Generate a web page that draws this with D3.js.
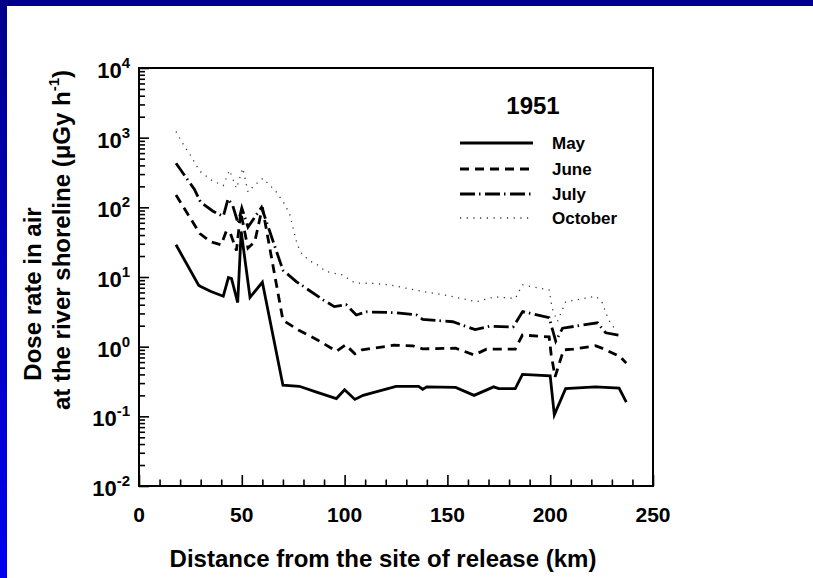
<!DOCTYPE html>
<html><head><meta charset="utf-8">
<script src="https://cdn.jsdelivr.net/npm/d3@7"></script>
<style>
html,body{margin:0;padding:0;background:#fff;}
svg{display:block;font-family:"Liberation Sans",Arial,sans-serif;font-weight:bold;}
</style></head>
<body>
<svg id="chart" width="813" height="578"></svg>
<script>
// ---- data (distance km, dose rate µGy/h) ----
const chartTitle = "1951";
const seriesNames = ["May", "June", "July", "October"];
const mayData = [[18,29],[29,7.6],[30,7.3],[35,6.2],[41,5.3],[43.5,9.8],[45,9.5],[48,4.3],[49.7,45],[54,5.1],[60,8.4],[70,0.28],[78,0.27],[86,0.225],[96,0.18],[100,0.24],[105,0.175],[109,0.2],[125,0.27],[136,0.27],[138,0.245],[140,0.265],[154,0.26],[163,0.2],[172.5,0.265],[175,0.25],[183,0.25],[186.5,0.4],[200,0.38],[202,0.105],[207.5,0.25],[222,0.265],[233.5,0.255],[237,0.16]];
const juneData = [[18,150],[29.6,42],[35,32],[40,29],[42.5,46],[44.5,42],[47.4,24],[49.5,85],[53,26],[56.3,32],[60,100],[70,2.4],[78,1.7],[87,1.24],[96,0.86],[100.5,1.06],[105,0.79],[108.5,0.9],[124,1.05],[133,1.03],[138,0.93],[154,0.95],[163,0.76],[169,0.92],[183,0.92],[186.5,1.47],[199.5,1.38],[200.5,0.76],[202.4,0.37],[206.5,0.9],[211,0.92],[222,1.03],[226,0.93],[234,0.72],[237,0.58]];
const julyData = [[18,430],[27,180],[30,118],[36,88],[41,74],[43.3,132],[45.5,108],[48.2,59],[50,98],[53,52],[59.6,100],[65,34],[70,12.5],[76.5,8.6],[89.5,4.7],[95,3.76],[100.8,4.0],[105.7,2.85],[110.5,3.16],[125,3.07],[135,2.85],[138,2.47],[152.6,2.28],[163.5,1.76],[170.4,1.96],[182,1.92],[186.6,3.2],[199.5,2.6],[202.7,1.2],[206,1.84],[223,2.2],[227,1.58],[234.3,1.45]];
const octoberData = [[18,1220],[22,760],[25,560],[29.6,330],[35.3,245],[41,205],[44,340],[47.4,187],[50.5,365],[53,166],[56,205],[60.3,262],[66.5,170],[71,110],[73.5,76],[75,50],[77,29],[79,22],[83,17],[86,15.5],[91,12],[99,10.7],[105,8.2],[114,8.1],[122,7.7],[130,6.9],[138,6.2],[149,5.5],[157,4.9],[164,4.4],[173,5.2],[183,4.9],[186.5,7.7],[199.5,6.5],[201,3.5],[203.5,2.3],[207.5,4.4],[222,5.3],[225,4.5],[228.5,2.4],[232,1.7]];
const xTicks = [0, 50, 100, 150, 200, 250];
const yExponents = [-2, -1, 0, 1, 2, 3, 4];
const xLabel = "Distance from the site of release (km)";
const yLabel1 = "Dose rate in air";
const yLabel2 = "at the river shoreline (μGy h";

// ---- layout ----
const svg = d3.select("#chart");
const W = 813, H = 578;
const plot = {left:139, right:653, top:68, bottom:486};

// frame
const defs = svg.append("defs");
const grad = defs.append("linearGradient").attr("id","lg").attr("x1",0).attr("y1",0).attr("x2",0).attr("y2",1);
grad.append("stop").attr("offset","0%").attr("stop-color","#00008c");
grad.append("stop").attr("offset","100%").attr("stop-color","#0000f0");
svg.append("rect").attr("x",0).attr("y",0).attr("width",W).attr("height",H).attr("fill","#fff");
svg.append("rect").attr("x",0).attr("y",0).attr("width",7).attr("height",H).attr("fill","url(#lg)");
svg.append("rect").attr("x",0).attr("y",0).attr("width",W).attr("height",6).attr("fill","#00008c");

const x = d3.scaleLinear().domain([0,250]).range([plot.left, plot.right]);
const y = d3.scaleLog().domain([1e-2,1e4]).range([plot.bottom, plot.top]);

// minor tick values
const xMinor = d3.range(0, 251, 10).filter(v => v % 50 !== 0);
const yMinor = [];
yExponents.slice(0,-1).forEach(e => { for (let k=2;k<=9;k++) yMinor.push(k*Math.pow(10,e)); });

function styleAxis(g){
  g.select(".domain").remove();
  g.selectAll(".tick line").attr("stroke","#000").attr("stroke-width",1.6);
  g.selectAll(".tick text").remove();
}
svg.append("g").attr("transform",`translate(0,${plot.bottom})`)
  .call(d3.axisBottom(x).tickValues(xTicks).tickSize(-11).tickFormat("")).call(styleAxis);
svg.append("g").attr("transform",`translate(0,${plot.bottom})`)
  .call(d3.axisBottom(x).tickValues(xMinor).tickSize(-6.5).tickFormat("")).call(styleAxis);
svg.append("g").attr("transform",`translate(${plot.left},0)`)
  .call(d3.axisLeft(y).tickValues(yExponents.map(e=>Math.pow(10,e))).tickSize(-10).tickFormat("")).call(styleAxis);
svg.append("g").attr("transform",`translate(${plot.left},0)`)
  .call(d3.axisLeft(y).tickValues(yMinor).tickSize(-6).tickFormat("")).call(styleAxis);

// box
svg.append("rect").attr("x",plot.left).attr("y",plot.top)
  .attr("width",plot.right-plot.left).attr("height",plot.bottom-plot.top)
  .attr("fill","none").attr("stroke","#000").attr("stroke-width",2);

// x tick labels
svg.append("g").selectAll("text").data(xTicks).join("text")
  .attr("x", d => x(d)).attr("y", plot.bottom + 36)
  .attr("text-anchor","middle").attr("font-size",21).text(d => d);

// y tick labels
const yl = svg.append("g").selectAll("text").data(yExponents).join("text")
  .attr("x", 130).attr("y", d => y(Math.pow(10,d)) + 10)
  .attr("text-anchor","end").attr("font-size",22);
yl.append("tspan").text("10");
yl.append("tspan").attr("font-size",15).attr("dy",-10).text(d => d);

// axis titles
svg.append("text").attr("x", 383).attr("y", 567).attr("text-anchor","middle")
  .attr("font-size",24).text(xLabel);
svg.append("text").attr("transform","translate(41,294) rotate(-90)")
  .attr("text-anchor","middle").attr("font-size",24).text(yLabel1);
const t2 = svg.append("text").attr("transform","translate(70,240) rotate(-90)")
  .attr("text-anchor","middle").attr("font-size",24);
t2.append("tspan").text(yLabel2);
t2.append("tspan").attr("font-size",15).attr("dy",-11).text("-1");
t2.append("tspan").attr("dy",11).text(")");

// series
const styles = [
  {data: mayData, dash: null, width: 2.8, color: "#000"},
  {data: juneData, dash: "9,6", width: 2.8, color: "#000"},
  {data: julyData, dash: "15,4,1.5,4.5", width: 2.8, color: "#000"},
  {data: octoberData, dash: "1.2,5.5", width: 1.3, color: "#333"}
];
const line = d3.line().x(d => x(d[0])).y(d => y(d[1]));
styles.forEach(s => {
  svg.append("path").datum(s.data).attr("d", line).attr("fill","none")
    .attr("stroke", s.color).attr("stroke-width", s.width)
    .attr("stroke-dasharray", s.dash).attr("stroke-linejoin","miter");
});

// legend
svg.append("text").attr("x",533).attr("y",114).attr("text-anchor","middle")
  .attr("font-size",24).text(chartTitle);
const legY = [143, 169, 194, 218];
styles.forEach((s,i) => {
  svg.append("line").attr("x1",460).attr("x2",533).attr("y1",legY[i]).attr("y2",legY[i])
    .attr("stroke", s.color).attr("stroke-width", s.width).attr("stroke-dasharray", s.dash);
  svg.append("text").attr("x",552).attr("y",legY[i]+6).attr("font-size",17).text(seriesNames[i]);
});
</script>
</body></html>
